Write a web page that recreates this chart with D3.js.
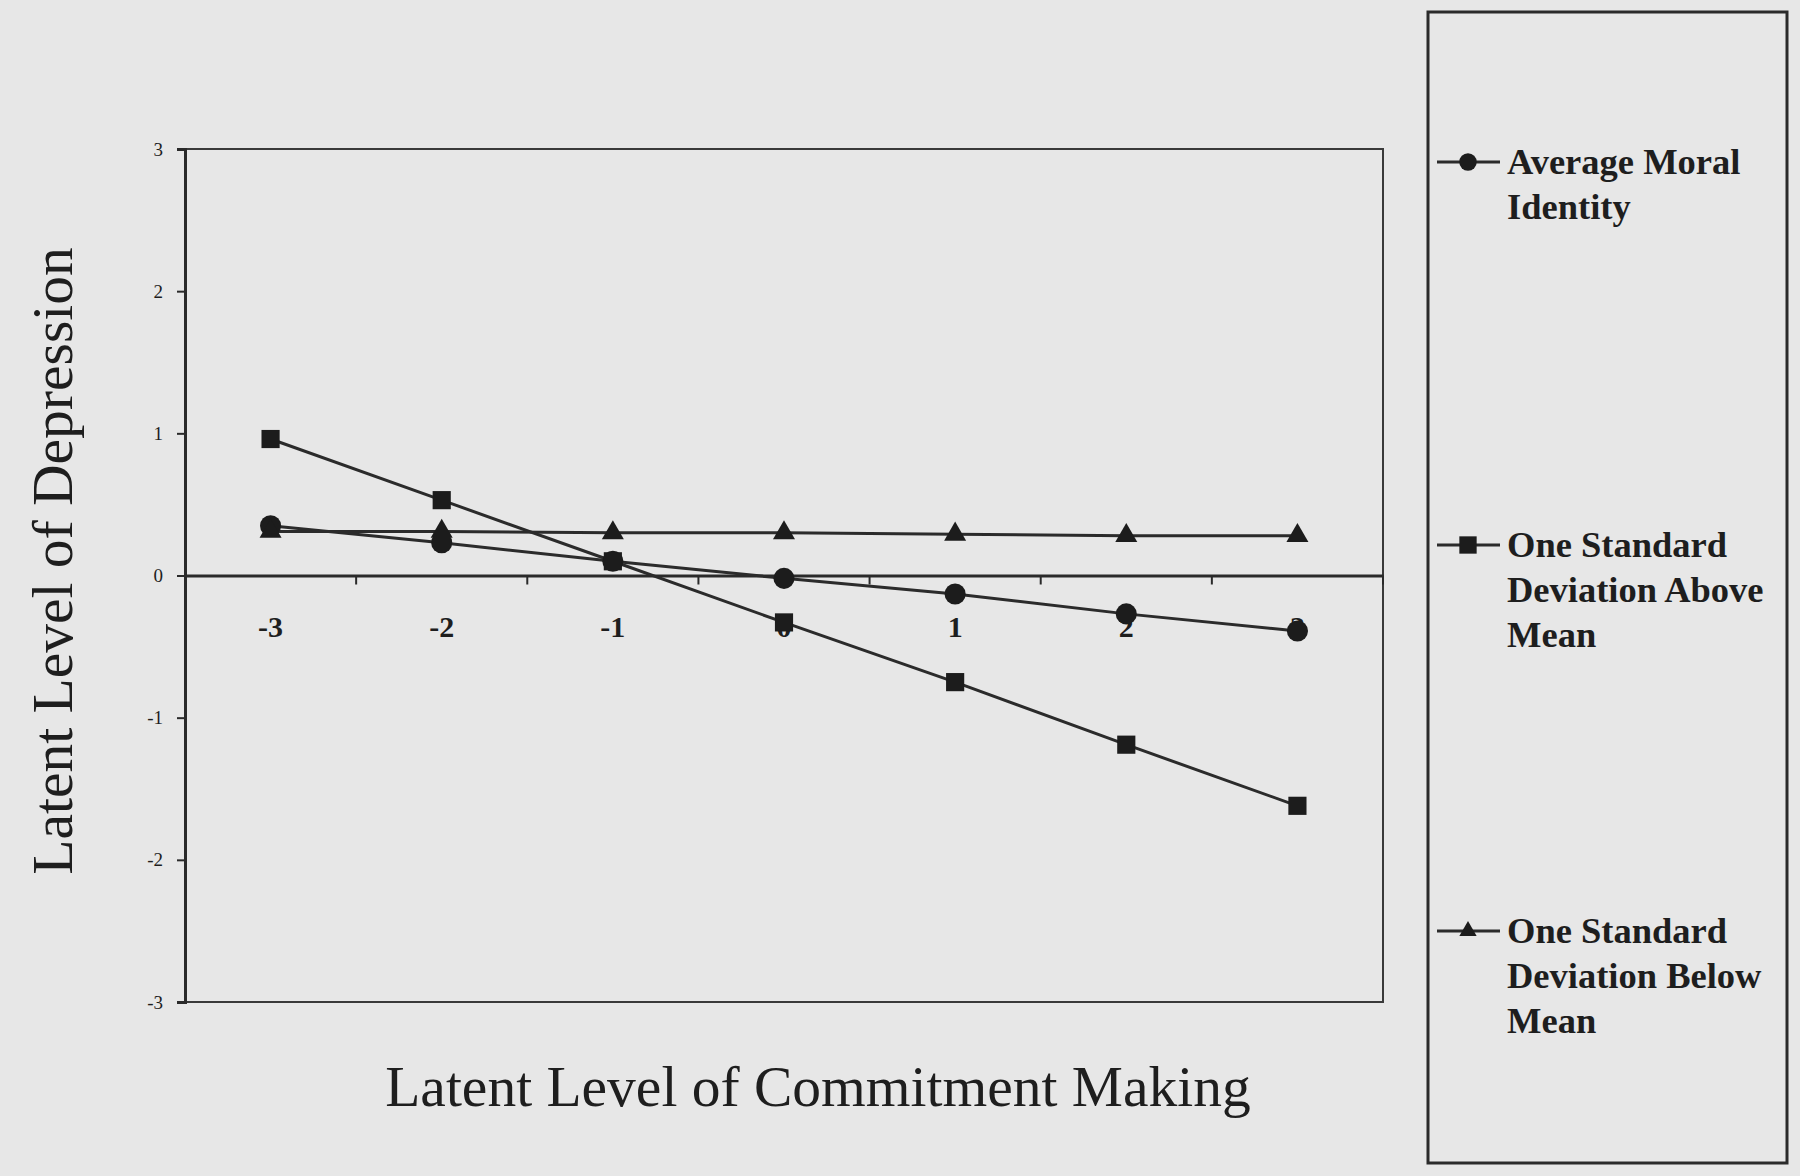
<!DOCTYPE html>
<html>
<head>
<meta charset="utf-8">
<script src="https://cdn.jsdelivr.net/npm/d3@7"></script>
<style>
  body { margin: 0; background: #e7e7e7; }
  svg { display: block; }
  text { font-family: "Liberation Serif", "Times New Roman", serif; fill: #1e1e1e; }
</style>
</head>
<body>
<div id="chart"></div>
<script>
// values
var categories = ["-3", "-2", "-1", "0", "1", "2", "3"];
var yTicks = [-3, -2, -1, 0, 1, 2, 3];
var averageMoral = [0.35, 0.23, 0.10, -0.02, -0.13, -0.27, -0.39];
var sdAbove = [0.96, 0.53, 0.10, -0.33, -0.75, -1.19, -1.62];
var sdBelow = [0.31, 0.31, 0.30, 0.30, 0.29, 0.28, 0.28];
var seriesNames = [
    ["Average Moral", "Identity"],
    ["One Standard", "Deviation Above", "Mean"],
    ["One Standard", "Deviation Below", "Mean"]
];

var width = 1800, height = 1176;
var plot = {left: 185, right: 1383, top: 149, bottom: 1002};

var svg = d3.select("#chart").append("svg")
    .attr("width", width)
    .attr("height", height);

svg.append("rect").attr("width", width).attr("height", height).attr("fill", "#e7e7e7");

var x = d3.scaleBand().domain(categories).range([plot.left, plot.right]);
var y = d3.scaleLinear().domain([-3, 3]).range([plot.bottom, plot.top]);

function cx(i) { return x(categories[i]) + x.bandwidth() / 2; }

// plot frame
svg.append("rect")
    .attr("x", plot.left).attr("y", plot.top)
    .attr("width", plot.right - plot.left).attr("height", plot.bottom - plot.top)
    .attr("fill", "none").attr("stroke", "#3a3a3a").attr("stroke-width", 2);

// y axis
var yAxis = svg.append("g")
    .attr("transform", "translate(" + plot.left + ",0)")
    .call(d3.axisLeft(y).tickValues(yTicks).tickFormat(function (d) { return String(d); }).tickSize(8).tickPadding(14));
yAxis.select(".domain").attr("stroke", "#2a2a2a").attr("stroke-width", 3);
yAxis.selectAll(".tick line").attr("stroke", "#2a2a2a").attr("stroke-width", 2);
yAxis.selectAll(".tick text")
    .style("font-family", "Liberation Serif, serif")
    .style("font-size", "19px")
    .attr("fill", "#333");

// x axis through zero
var xAxis = svg.append("g")
    .attr("transform", "translate(0," + y(0) + ")")
    .call(d3.axisBottom(x).tickSize(0).tickPadding(40));
xAxis.select(".domain").attr("stroke", "#2a2a2a").attr("stroke-width", 3);
xAxis.selectAll(".tick text")
    .style("font-family", "Liberation Serif, serif")
    .style("font-size", "30px")
    .style("font-weight", "bold")
    .attr("fill", "#1e1e1e");

// ticks between categories
svg.append("g").selectAll("line")
    .data(categories.slice(1).concat(["end"]))
    .enter().append("line")
    .attr("x1", function (d) { return d === "end" ? plot.right : x(d); })
    .attr("x2", function (d) { return d === "end" ? plot.right : x(d); })
    .attr("y1", y(0)).attr("y2", y(0) + 9)
    .attr("stroke", "#2a2a2a").attr("stroke-width", 2);

// series
var series = [
    {values: averageMoral, shape: d3.symbolCircle, size: 350},
    {values: sdAbove, shape: d3.symbolSquare, size: 330},
    {values: sdBelow, shape: d3.symbolTriangle, size: 210}
];

var line = d3.line()
    .x(function (d, i) { return cx(i); })
    .y(function (d) { return y(d); });

series.forEach(function (s) {
    svg.append("path")
        .datum(s.values)
        .attr("d", line)
        .attr("fill", "none")
        .attr("stroke", "#2b2b2b")
        .attr("stroke-width", 3);
});

series.forEach(function (s) {
    svg.append("g").selectAll("path")
        .data(s.values)
        .enter().append("path")
        .attr("transform", function (d, i) { return "translate(" + cx(i) + "," + y(d) + ")"; })
        .attr("d", d3.symbol().type(s.shape).size(s.size))
        .attr("fill", "#1c1c1c");
});

// axis titles
svg.append("text")
    .attr("x", 818).attr("y", 1106)
    .attr("text-anchor", "middle")
    .style("font-size", "57.5px")
    .text("Latent Level  of Commitment Making");

svg.append("text")
    .attr("transform", "translate(72,561) rotate(-90)")
    .attr("text-anchor", "middle")
    .style("font-size", "57.5px")
    .text("Latent Level of Depression");

// legend
var legend = svg.append("g");
legend.append("rect")
    .attr("x", 1428).attr("y", 12)
    .attr("width", 359).attr("height", 1151)
    .attr("fill", "none").attr("stroke", "#2a2a2a").attr("stroke-width", 3);

var legendY = [162, 545, 931];
var legendSizes = [240, 300, 130];

series.forEach(function (s, k) {
    var g = legend.append("g").attr("transform", "translate(0," + legendY[k] + ")");
    g.append("line")
        .attr("x1", 1437).attr("x2", 1500)
        .attr("stroke", "#2b2b2b").attr("stroke-width", 3);
    g.append("path")
        .attr("transform", "translate(1468,0)")
        .attr("d", d3.symbol().type(s.shape).size(legendSizes[k]))
        .attr("fill", "#1c1c1c");
    var t = g.append("text")
        .attr("x", 1507).attr("y", 12)
        .style("font-size", "36.5px")
        .style("font-weight", "bold");
    seriesNames[k].forEach(function (name, j) {
        t.append("tspan").attr("x", 1507).attr("dy", j === 0 ? 0 : 45).text(name);
    });
});
</script>
</body>
</html>
